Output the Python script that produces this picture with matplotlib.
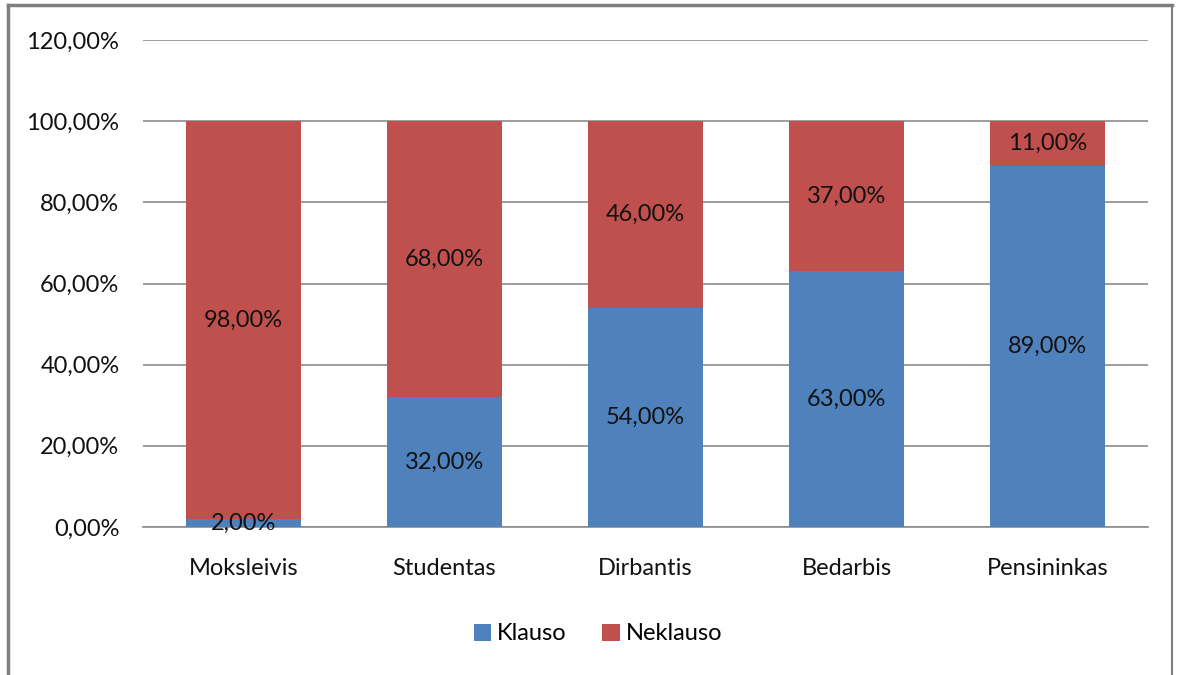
import matplotlib
matplotlib.use('Agg')
import matplotlib.pyplot as plt
import numpy as np
from matplotlib.lines import Line2D

categories = ['Moksleivis', 'Studentas', 'Dirbantis', 'Bedarbis', 'Pensininkas']
klauso = [2, 32, 54, 63, 89]
neklauso = [98, 68, 46, 37, 11]
series_names = ['Klauso', 'Neklauso']
yticks = [0, 20, 40, 60, 80, 100, 120]

plt.rcParams['font.family'] = ['Lato', 'DejaVu Sans']

fig = plt.figure(figsize=(11.77, 6.75), dpi=100)
W, H = 1177, 675
ax = fig.add_axes([143 / W, 1 - 527 / H, (1148 - 143) / W, (527 - 40) / H])

x = np.arange(len(categories))
bw = 0.57
fs = 17
ax.bar(x, klauso, bw, color='#4F81BD', label=series_names[0], zorder=3)
ax.bar(x, neklauso, bw, bottom=klauso, color='#C0504D', label=series_names[1], zorder=3)

def fmt(v):
    return f'{v:.2f}'.replace('.', ',') + '%'

for i in range(len(categories)):
    ax.text(x[i], klauso[i] / 2, fmt(klauso[i]), ha='center', va='center',
            fontsize=fs, color='#111111', zorder=4)
    ax.text(x[i], klauso[i] + neklauso[i] / 2, fmt(neklauso[i]), ha='center', va='center',
            fontsize=fs, color='#111111', zorder=4)

ax.set_xlim(-0.5, len(categories) - 0.5)
ax.set_ylim(0, 120)
ax.set_yticks(yticks)
ax.set_yticklabels([fmt(v) for v in yticks], fontsize=fs, color='#111111')
ax.set_xticks(x)
ax.set_xticklabels(categories, fontsize=fs, color='#111111')
ax.tick_params(axis='both', length=0)
ax.tick_params(axis='y', pad=17)
ax.tick_params(axis='x', pad=22)
ax.grid(axis='y', color='#8c8c8c', linewidth=1.2, zorder=0)
for s in ['top', 'right', 'left']:
    ax.spines[s].set_visible(False)
ax.spines['bottom'].set_color('#8c8c8c')
ax.spines['bottom'].set_linewidth(1.2)

ax.legend(loc='center', bbox_to_anchor=(598 / W, 1 - 634 / H), bbox_transform=fig.transFigure,
          ncol=2, frameon=False, fontsize=fs, handlelength=0.75, handleheight=0.75,
          handletextpad=0.25, columnspacing=1.5)

# outer frame
fig.add_artist(Line2D([8 / W, 8 / W], [0, 1 - 5 / H], color='#7f7f7f', linewidth=2.5,
                      transform=fig.transFigure))
fig.add_artist(Line2D([8 / W, 1172 / W], [1 - 5 / H, 1 - 5 / H], color='#7f7f7f', linewidth=2.5,
                      transform=fig.transFigure))
fig.add_artist(Line2D([1172 / W, 1172 / W], [0, 1 - 5 / H], color='#7f7f7f', linewidth=1.5,
                      transform=fig.transFigure))

fig.savefig('out.png', dpi=100)
